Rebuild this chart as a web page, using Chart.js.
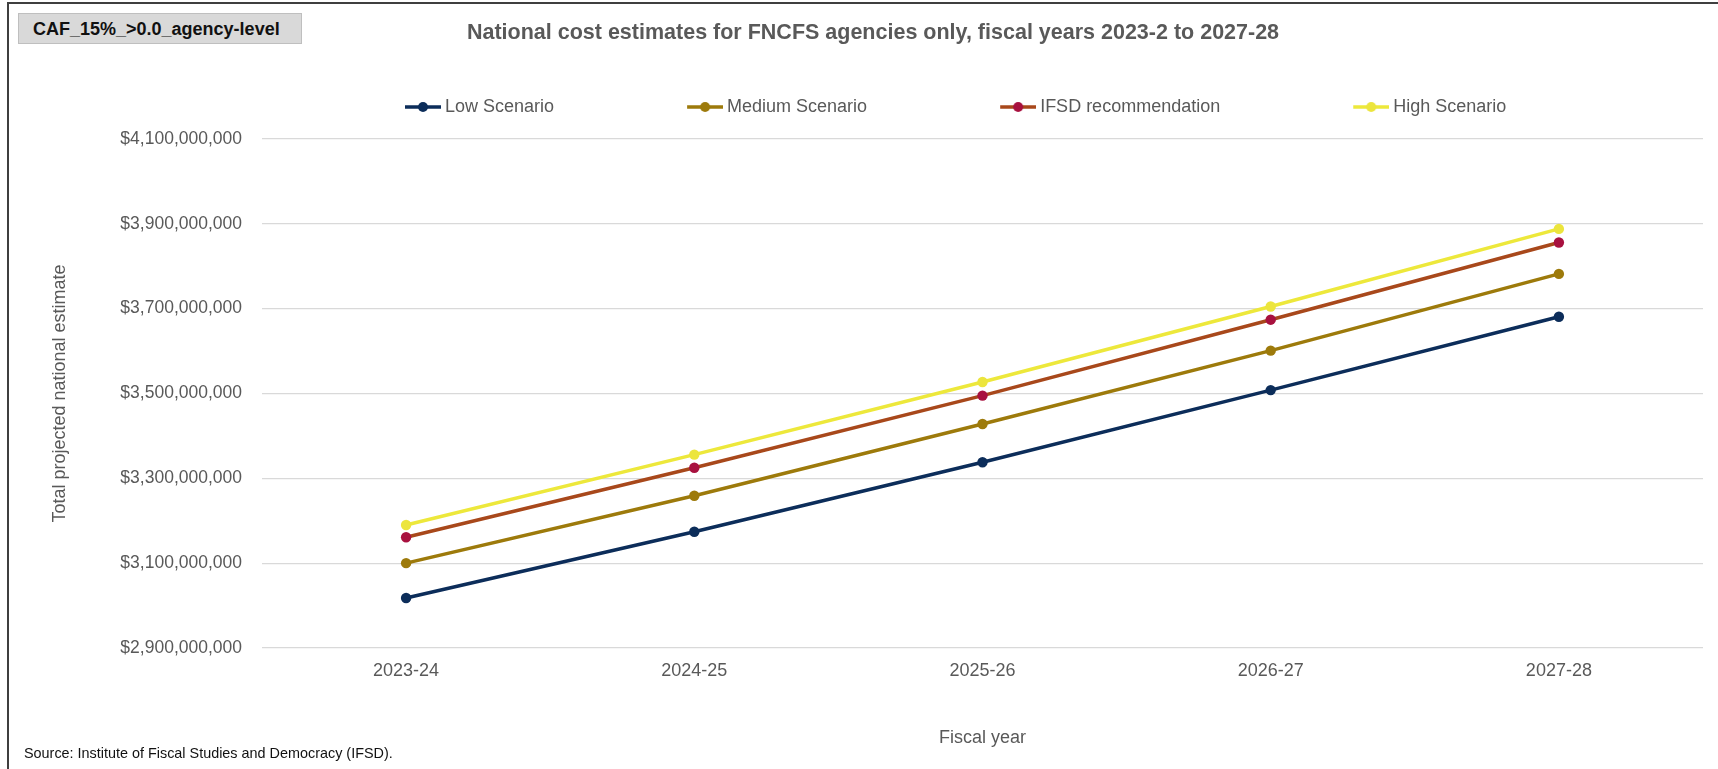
<!DOCTYPE html>
<html lang="en">
<head>
    <meta charset="UTF-8">
    <title>National cost estimates for FNCFS agencies</title>
    <script src="https://cdn.jsdelivr.net/npm/chart.js"></script>
    <style>
        html, body { margin: 0; padding: 0; background: #fff; overflow: hidden; }
        body { width: 1718px; height: 769px; position: relative; font-family: "Liberation Sans", Arial, sans-serif; }
        #wrap { position: absolute; left: 0; top: 0; width: 1718px; height: 769px; }
        #frame {
            position: absolute; left: 7px; top: 2px; width: 1730px; height: 800px;
            border-left: 2px solid #3f3f3f; border-top: 2px solid #3f3f3f;
            pointer-events: none;
        }
        #tag {
            position: absolute; left: 18px; top: 13px; width: 268px; height: 29px;
            padding-left: 14px; background: #d9d9d9; border: 1px solid #bfbfbf;
            font-weight: bold; font-size: 18px; line-height: 30px; color: #111;
        }
        #source {
            position: absolute; left: 24px; top: 744px;
            font-size: 14.4px; line-height: 18px; color: #111;
        }
    </style>
</head>
<body>
    <div id="wrap"><canvas id="costChart"></canvas></div>
    <div id="frame"></div>
    <div id="tag">CAF_15%_&gt;0.0_agency-level</div>
    <div id="source">Source: Institute of Fiscal Studies and Democracy (IFSD).</div>
    <script>
        // values (dollars)
        const fiscalYears = ['2023-24', '2024-25', '2025-26', '2026-27', '2027-28'];
        const lowScenario = [3018e6, 3174e6, 3338e6, 3508e6, 3681e6];
        const mediumScenario = [3100e6, 3259e6, 3428e6, 3601e6, 3782e6];
        const ifsdRecommendation = [3161e6, 3325e6, 3495e6, 3674e6, 3856e6];
        const highScenario = [3190e6, 3356e6, 3527e6, 3705e6, 3888e6];
        const yMin = 2.9e9, yMax = 4.1e9, yStep = 2e8;

        const textGrey = '#595959';
        Chart.defaults.font.family = '"Liberation Sans", Arial, sans-serif';
        Chart.defaults.color = textGrey;

        function series(label, data, line, marker) {
            return {
                label: label,
                data: data,
                borderColor: line,
                backgroundColor: marker,
                pointBackgroundColor: marker,
                pointBorderColor: marker,
                borderWidth: 3.5,
                pointRadius: 5.2,
                pointHoverRadius: 5.2,
                pointBorderWidth: 0,
                tension: 0,
                fill: false
            };
        }

        // small line-with-dot glyph for the legend
        function legendGlyph(line, marker) {
            const c = document.createElement('canvas');
            c.width = 42; c.height = 14;
            const g = c.getContext('2d');
            g.strokeStyle = line; g.lineWidth = 3.5;
            g.beginPath(); g.moveTo(6, 7); g.lineTo(42, 7); g.stroke();
            g.fillStyle = marker;
            g.beginPath(); g.arc(24, 7, 5, 0, Math.PI * 2); g.fill();
            return c;
        }

        const legendPlacement = {
            id: 'legendPlacement',
            afterLayout(chart) {
                const lg = chart.legend;
                if (!lg || !lg.lineWidths) return;
                const pad = lg.options.labels.padding;
                const shift = 404 + (lg.lineWidths[0] - pad) / 2 - (lg.left + lg.right) / 2;
                lg.left += shift;
                lg.right += shift;
                lg.top = 98 - pad;
            }
        };

        const ctx = document.getElementById('costChart').getContext('2d');
        new Chart(ctx, {
            type: 'line',
            data: {
                labels: fiscalYears,
                datasets: [
                    series('Low Scenario', lowScenario, '#0c2d5a', '#0c2d5a'),
                    series('Medium Scenario', mediumScenario, '#9d7a0b', '#9d7a0b'),
                    series('IFSD recommendation', ifsdRecommendation, '#a8481b', '#a8113f'),
                    series('High Scenario', highScenario, '#ede83b', '#ece53d')
                ]
            },
            options: {
                responsive: true,
                maintainAspectRatio: false,
                animation: false,
                layout: { padding: { left: 43, right: 15, top: 0, bottom: 0 } },
                plugins: {
                    title: {
                        display: true,
                        text: 'National cost estimates for FNCFS agencies only, fiscal years 2023-2 to 2027-28',
                        color: textGrey,
                        font: { size: 21.5, weight: 'bold' },
                        padding: { top: 20.1, bottom: 8 }
                    },
                    legend: {
                        position: 'top',
                        maxHeight: 85.1,
                        labels: {
                            usePointStyle: true,
                            pointStyleWidth: 32,
                            padding: 132,
                            color: textGrey,
                            font: { size: 18 },
                            generateLabels(chart) {
                                return chart.data.datasets.map((ds, i) => ({
                                    text: ds.label,
                                    fillStyle: ds.pointBackgroundColor,
                                    strokeStyle: ds.borderColor,
                                    fontColor: textGrey,
                                    lineWidth: 0,
                                    pointStyle: legendGlyph(ds.borderColor, ds.pointBackgroundColor),
                                    hidden: !chart.isDatasetVisible(i),
                                    datasetIndex: i
                                }));
                            }
                        }
                    },
                    tooltip: { enabled: false }
                },
                scales: {
                    x: {
                        offset: true,
                        grid: { display: false, drawTicks: false },
                        border: { display: false },
                        ticks: { padding: 12.2, color: textGrey, font: { size: 18 } },
                        title: {
                            display: true,
                            text: 'Fiscal year',
                            color: textGrey,
                            font: { size: 18 },
                            padding: { top: 20, bottom: 20.2 }
                        },
                        afterFit(scale) { scale.height = 121; }
                    },
                    y: {
                        min: yMin,
                        max: yMax,
                        grid: { color: '#d9d9d9', lineWidth: 1.3, drawTicks: false },
                        border: { display: false },
                        ticks: {
                            stepSize: yStep,
                            padding: 20,
                            color: textGrey,
                            font: { size: 17.5 },
                            callback: value => '$' + Number(value).toLocaleString('en-US')
                        },
                        title: {
                            display: true,
                            text: 'Total projected national estimate',
                            color: textGrey,
                            font: { size: 18 },
                            padding: { top: 6.2, bottom: 0 }
                        },
                        afterFit(scale) { scale.width = 219; }
                    }
                }
            },
            plugins: [legendPlacement]
        });
    </script>
</body>
</html>
